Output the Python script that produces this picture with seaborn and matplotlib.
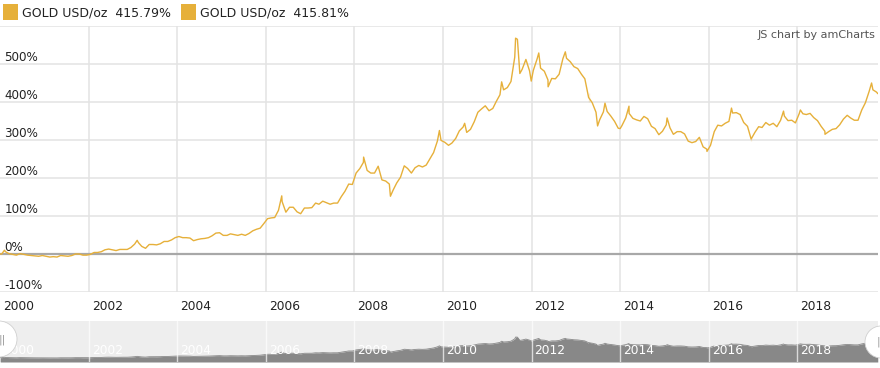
import matplotlib
matplotlib.use("Agg")
import matplotlib.pyplot as plt
import matplotlib.transforms as mtransforms
from matplotlib.patches import Circle, Rectangle
import seaborn as sns
import pandas as pd
import numpy as np

# ---------------- data (percent change vs. Jan 2000) ----------------
y2000 = [0, 6, 1, -1, -3, 1, -1, -3, -4, -5, -6, -4]
y2001 = [-6, -8, -7, -8, -4, -5, -6, -4, 0, 0, -3, -3]
y2002 = [-1, 4, 4, 6, 11, 13, 11, 9, 12, 12, 12, 17]
y2003 = [26, 30, 20, 15, 25, 25, 24, 27, 33, 33, 37, 43]
y2004 = [46, 43, 43, 42, 35, 38, 40, 41, 43, 48, 55, 56]
y2005 = [49, 49, 53, 51, 49, 52, 49, 54, 61, 65, 68, 80]
y2006 = [93, 95, 96, 115, 138, 110, 123, 123, 111, 106, 121, 121]
y2007 = [122, 134, 131, 139, 135, 131, 134, 134, 151, 165, 184, 183]
y2008 = [213, 225, 241, 220, 213, 213, 231, 195, 192, 184, 168, 187]
y2009 = [202, 232, 225, 213, 227, 233, 229, 234, 251, 267, 297, 299]
y2010 = [294, 286, 292, 304, 324, 334, 320, 328, 348, 373, 382, 390]
y2011 = [377, 383, 401, 419, 432, 438, 454, 518, 524, 486, 512, 482]
y2012 = [483, 513, 489, 481, 458, 462, 461, 473, 514, 515, 506, 493]
y2013 = [488, 473, 461, 424, 398, 373, 353, 374, 375, 363, 349, 331]
y2014 = [338, 358, 370, 357, 353, 350, 362, 356, 336, 330, 314, 323]
y2015 = [340, 332, 315, 322, 322, 316, 297, 293, 296, 307, 282, 276]
y2016 = [286, 322, 339, 337, 344, 349, 371, 372, 367, 346, 336, 307]
y2017 = [320, 335, 333, 346, 339, 344, 335, 352, 363, 351, 352, 345]
y2018 = [369, 369, 367, 370, 359, 351, 336, 323, 322, 328, 330, 340]
y2019 = [355, 365, 358, 352, 352, 379, 398, 428, 432, 426]

# notable intra-month highs / lows visible in the chart
extreme_dates = ["2000-01-03", "2000-02-07", "2003-02-05", "2006-05-12", "2008-03-17",
                 "2008-10-24", "2009-12-02", "2010-06-28", "2011-04-29", "2011-08-22",
                 "2011-09-06", "2011-09-26", "2011-12-29", "2012-02-29", "2012-05-16",
                 "2012-10-05", "2013-04-15", "2013-06-28", "2013-08-28", "2013-12-31",
                 "2014-03-14", "2015-01-22", "2015-12-17", "2016-07-06", "2016-12-15",
                 "2017-09-08", "2018-01-25", "2018-08-16", "2019-09-04", "2019-10-25"]
extreme_pct = [0, 10, 36, 153, 255,
               152, 325, 344, 453, 568,
               565, 475, 455, 529, 440,
               532, 400, 337, 397, 330,
               389, 358, 270, 384, 298,
               376, 379, 315, 450, 422]

legend_labels = ["GOLD USD/oz  415.79%", "GOLD USD/oz  415.81%"]
y_ticks = [-100, 0, 100, 200, 300, 400, 500]
x_tick_years = [2000, 2002, 2004, 2006, 2008, 2010, 2012, 2014, 2016, 2018]

# ---------------- assemble ----------------
monthly_pct = (y2000 + y2001 + y2002 + y2003 + y2004 + y2005 + y2006 + y2007 + y2008 +
               y2009 + y2010 + y2011 + y2012 + y2013 + y2014 + y2015 + y2016 + y2017 +
               y2018 + y2019)
monthly_dates = pd.date_range("2000-01-01", periods=len(monthly_pct), freq="MS") + pd.Timedelta(days=14)
df = pd.concat([
    pd.DataFrame({"date": monthly_dates, "pct": monthly_pct}),
    pd.DataFrame({"date": pd.to_datetime(extreme_dates), "pct": extreme_pct}),
]).sort_values("date").reset_index(drop=True)

GOLD = "#e6b03a"
W, H = 880, 368

sns.set_theme(style="white")
plt.rcParams["font.family"] = ["DejaVu Sans"]

fig = plt.figure(figsize=(W / 100, H / 100), dpi=100)
fig.patch.set_facecolor("white")

x0 = pd.Timestamp("2000-01-01")
x1 = pd.Timestamp("2019-10-27")
plot_right = 878 / W

# ---------------- main chart ----------------
ax = fig.add_axes([0, 1 - 292 / H, plot_right, (292 - 26) / H])
ax.set_facecolor("white")
for s in ax.spines.values():
    s.set_visible(False)
ax.set_xlim(x0, x1)
ax.set_ylim(-100, 600)
ax.set_xticks([])
ax.set_yticks([])

for v in [-100, 100, 200, 300, 400, 500, 600]:
    ax.axhline(v, color="#e3e3e3", lw=1.1, zorder=0)
for yr in x_tick_years[1:]:
    ax.axvline(pd.Timestamp(f"{yr}-01-01"), color="#e3e3e3", lw=1.1, zorder=0)
ax.axhline(0, color="#a8a8a8", lw=1.6, zorder=1)

sns.lineplot(data=df, x="date", y="pct", ax=ax, color=GOLD, lw=1.0, zorder=3, legend=False)
ax.set_xlabel("")
ax.set_ylabel("")

ytrans = mtransforms.blended_transform_factory(ax.transAxes, ax.transData)
for v in y_ticks:
    ax.text(0.005, v, f"{v}%", transform=ytrans, ha="left", va="bottom",
            fontsize=8.6, color="#222222", zorder=4)

xtrans = mtransforms.offset_copy(
    mtransforms.blended_transform_factory(ax.transData, ax.transAxes),
    fig=fig, x=3, y=0, units="dots")
for yr in x_tick_years:
    ax.text(pd.Timestamp(f"{yr}-01-01"), -15 / 266, str(yr), transform=xtrans,
            ha="left", va="center", fontsize=8.8, color="#222222", clip_on=False)

ax.text(0.997, 1 - 9 / 266, "JS chart by amCharts", transform=ax.transAxes,
        ha="right", va="center", fontsize=8, color="#555555")

# ---------------- scrollbar ----------------
sax = fig.add_axes([0, 1 - 362 / H, plot_right, 41 / H])
sax.set_facecolor("#eeeeee")
for s in sax.spines.values():
    s.set_visible(False)
sax.set_xlim(x0, x1)
sax.set_ylim(-120, 1010)
sax.set_xticks([])
sax.set_yticks([])
sax.fill_between(df["date"], df["pct"], -120, color="#888888", lw=0, zorder=1)
sns.lineplot(data=df, x="date", y="pct", ax=sax, color="#888888", lw=0.6, zorder=1, legend=False)
sax.set_xlabel("")
sax.set_ylabel("")
for yr in x_tick_years[1:]:
    sax.axvline(pd.Timestamp(f"{yr}-01-01"), color="white", lw=1.0, alpha=0.7, zorder=2)
strans = mtransforms.offset_copy(
    mtransforms.blended_transform_factory(sax.transData, sax.transAxes),
    fig=fig, x=3, y=0, units="dots")
for yr in x_tick_years:
    sax.text(pd.Timestamp(f"{yr}-01-01"), 11 / 41, str(yr), transform=strans,
             ha="left", va="center", fontsize=8.8, color="white", zorder=3)

# ---------------- overlay: legend + scrollbar grips ----------------
ov = fig.add_axes([0, 0, 1, 1])
ov.set_xlim(0, W)
ov.set_ylim(H, 0)
ov.axis("off")
ov.patch.set_alpha(0)

for sx, lab in zip([3, 181], legend_labels):
    ov.add_patch(Rectangle((sx, 4), 15, 16, facecolor=GOLD, edgecolor="none"))
    ov.text(sx + 19, 13, lab, ha="left", va="center", fontsize=9, color="#222222")

for cx, cy, r in [(-1, 339, 18), (881, 342, 16)]:
    ov.add_patch(Circle((cx, cy), r, facecolor="white", edgecolor="#d0d0d0", lw=0.6, zorder=5))
ov.text(2, 340, "||", ha="center", va="center", fontsize=8, color="#999999", zorder=6)
ov.text(878, 342, "|", ha="center", va="center", fontsize=8, color="#999999", zorder=6)

fig.savefig("out.png", dpi=100, facecolor="white")
